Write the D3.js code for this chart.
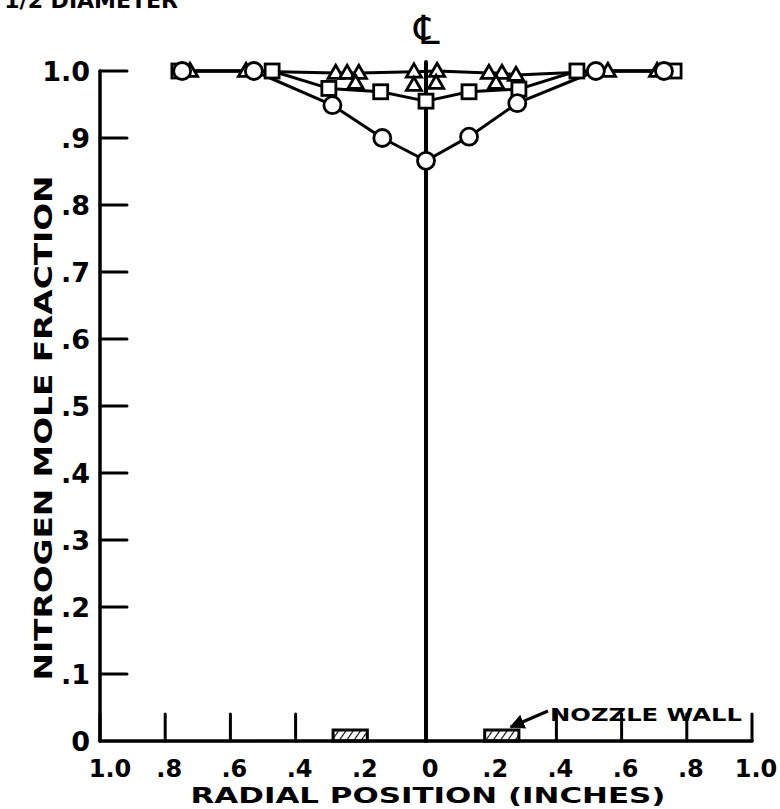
<!DOCTYPE html>
<html>
<head>
<meta charset="utf-8">
<script src="https://cdn.jsdelivr.net/npm/d3@7"></script>
<style>
  html, body { margin: 0; padding: 0; background: #fff; }
  svg { display: block; }
  text { font-family: "DejaVu Sans", "Liberation Sans", sans-serif; fill: #000; }
</style>
</head>
<body>
<svg id="chart" width="780" height="809"></svg>
<script>
// Radial tick values (inches, left of centreline negative) and their printed labels
const xTicks = [-1, -0.8, -0.6, -0.4, -0.2, 0, 0.2, 0.4, 0.6, 0.8, 1];
const xTickLabels = ["1.0", ".8", ".6", ".4", ".2", "0", ".2", ".4", ".6", ".8", "1.0"];
const xTickMarks = [-1, -0.8, -0.6, -0.4, 0.4, 0.6, 0.8, 1];
const yTicks = [0, 0.1, 0.2, 0.3, 0.4, 0.5, 0.6, 0.7, 0.8, 0.9, 1.0];
const yTickLabels = ["0", ".1", ".2", ".3", ".4", ".5", ".6", ".7", ".8", ".9", "1.0"];

// Nitrogen mole fraction profiles
const circleR = [-0.748, -0.528, -0.287, -0.134, 0, 0.132, 0.280, 0.521, 0.730];
const circleN = [1.0, 1.0, 0.949, 0.900, 0.866, 0.902, 0.952, 1.0, 1.0];
const squareR = [-0.758, -0.472, -0.298, -0.139, 0, 0.132, 0.285, 0.463, 0.761];
const squareN = [1.0, 1.0, 0.974, 0.969, 0.955, 0.969, 0.973, 1.0, 1.0];
const triR = [-0.724, -0.552, -0.277, -0.242, -0.206, -0.037, 0.034, 0.193, 0.233, 0.276, 0.558, 0.709];
const triN = [1.0, 1.0, 0.997, 0.997, 0.997, 0.999, 1.0, 0.997, 0.997, 0.994, 1.0, 1.0];
const tri2R = [-0.216, -0.037, 0.031, 0.215];
const tri2N = [0.982, 0.979, 0.982, 0.982];

// Nozzle wall extent (inches from centreline)
const wallInner = 0.18;
const wallOuter = 0.285;

const svg = d3.select("#chart");
const x = d3.scaleLinear().domain([-1, 1]).range([100, 752]);
const y = d3.scaleLinear().domain([0, 1]).range([741, 71]);

const zip = (a, b) => a.map((v, i) => [v, b[i]]);
const circles = zip(circleR, circleN);
const squares = zip(squareR, squareN);
const tris = zip(triR, triN);
const tris2 = zip(tri2R, tri2N);

// Hatch pattern for nozzle wall, arrowhead for its pointer
const defs = svg.append("defs");
const pat = defs.append("pattern").attr("id", "hatch")
  .attr("patternUnits", "userSpaceOnUse").attr("width", 6).attr("height", 6)
  .attr("patternTransform", "rotate(35)");
pat.append("line").attr("x1", 0).attr("y1", 0).attr("x2", 0).attr("y2", 6)
  .attr("stroke", "#000").attr("stroke-width", 2.2);
defs.append("marker").attr("id", "arrow").attr("viewBox", "0 0 10 10")
  .attr("refX", 9).attr("refY", 5).attr("markerWidth", 5).attr("markerHeight", 5)
  .attr("orient", "auto")
  .append("path").attr("d", "M0,0 L10,5 L0,10 z").attr("fill", "#000");

// Axes
const axes = svg.append("g").attr("stroke", "#000").attr("stroke-linecap", "round");
axes.append("line").attr("x1", x(-1)).attr("x2", x(-1)).attr("y1", y(0)).attr("y2", y(1))
  .attr("stroke-width", 3.5);
axes.append("line").attr("x1", x(-1)).attr("x2", x(1)).attr("y1", y(0)).attr("y2", y(0))
  .attr("stroke-width", 3.5);
axes.selectAll(".yt").data(yTicks.filter(d => d > 0)).join("line")
  .attr("x1", x(-1)).attr("x2", x(-1) + 27).attr("y1", d => y(d)).attr("y2", d => y(d))
  .attr("stroke-width", 3);
axes.selectAll(".xt").data(xTickMarks).join("line")
  .attr("x1", d => x(d)).attr("x2", d => x(d)).attr("y1", y(0)).attr("y2", y(0) - 27)
  .attr("stroke-width", 3);
// Centreline
axes.append("line").attr("x1", x(0)).attr("x2", x(0)).attr("y1", y(0)).attr("y2", y(1) - 9)
  .attr("stroke-width", 4);

// Tick labels
svg.append("g").selectAll("text").data(yTicks).join("text")
  .attr("x", 90).attr("y", d => y(d)).attr("dy", "0.36em")
  .attr("text-anchor", "end").attr("font-size", 27).attr("font-weight", "bold")
  .text((d, i) => yTickLabels[i]);
svg.append("g").selectAll("text").data(xTicks).join("text")
  .attr("x", d => x(d) + (d === -1 ? 10 : 4)).attr("y", 777)
  .attr("text-anchor", "middle").attr("font-size", 24).attr("font-weight", "bold")
  .text((d, i) => xTickLabels[i]);

// Axis titles
svg.append("text").attr("transform", "translate(52,428) rotate(-90)")
  .attr("text-anchor", "middle").attr("font-size", 24).attr("font-weight", "bold")
  .attr("textLength", 505).attr("lengthAdjust", "spacingAndGlyphs")
  .text("NITROGEN MOLE FRACTION");
svg.append("text").attr("x", 428).attr("y", 803)
  .attr("text-anchor", "middle").attr("font-size", 21).attr("font-weight", "bold")
  .attr("textLength", 475).attr("lengthAdjust", "spacingAndGlyphs")
  .text("RADIAL POSITION (INCHES)");

// Centreline symbol
svg.append("text").attr("x", 427).attr("y", 44).attr("text-anchor", "middle")
  .attr("font-size", 40).text("\u2104");

// Heading fragment at the top edge
svg.append("text").attr("x", 178).attr("y", 8).attr("text-anchor", "end")
  .attr("font-size", 22).attr("font-weight", "bold")
  .text("1/2 DIAMETER");

// Nozzle walls
[[-wallOuter, -wallInner], [wallInner, wallOuter]].forEach(([a, b]) => {
  svg.append("rect").attr("x", x(a)).attr("y", y(0) - 11)
    .attr("width", x(b) - x(a)).attr("height", 11)
    .attr("fill", "url(#hatch)").attr("stroke", "#000").attr("stroke-width", 3);
});
svg.append("line").attr("x1", 548).attr("y1", 711).attr("x2", x(0.26)).attr("y2", y(0) - 14)
  .attr("stroke", "#000").attr("stroke-width", 3).attr("marker-end", "url(#arrow)");
svg.append("text").attr("x", 550).attr("y", 721)
  .attr("font-size", 18).attr("font-weight", "bold")
  .attr("textLength", 192).attr("lengthAdjust", "spacingAndGlyphs")
  .text("NOZZLE WALL");

// Profile lines
const line = d3.line().x(d => x(d[0])).y(d => y(d[1]));
const lines = svg.append("g").attr("fill", "none").attr("stroke", "#000")
  .attr("stroke-width", 3).attr("stroke-linejoin", "round");
[circles, squares, tris].forEach(s => lines.append("path").attr("d", line(s)));

// Markers
const mk = svg.append("g").attr("fill", "#fff").attr("stroke", "#000").attr("stroke-width", 2.8);
const tri = d3.symbol().type(d3.symbolTriangle).size(100);
mk.selectAll(".tr").data(tris.concat(tris2)).join("path")
  .attr("transform", d => `translate(${x(d[0])},${y(d[1]) + 1})`).attr("d", tri());
mk.selectAll(".sq").data(squares).join("rect")
  .attr("x", d => x(d[0]) - 7).attr("y", d => y(d[1]) - 7)
  .attr("width", 14).attr("height", 14);
mk.selectAll(".ci").data(circles).join("circle")
  .attr("cx", d => x(d[0])).attr("cy", d => y(d[1])).attr("r", 8.5);
</script>
</body>
</html>
